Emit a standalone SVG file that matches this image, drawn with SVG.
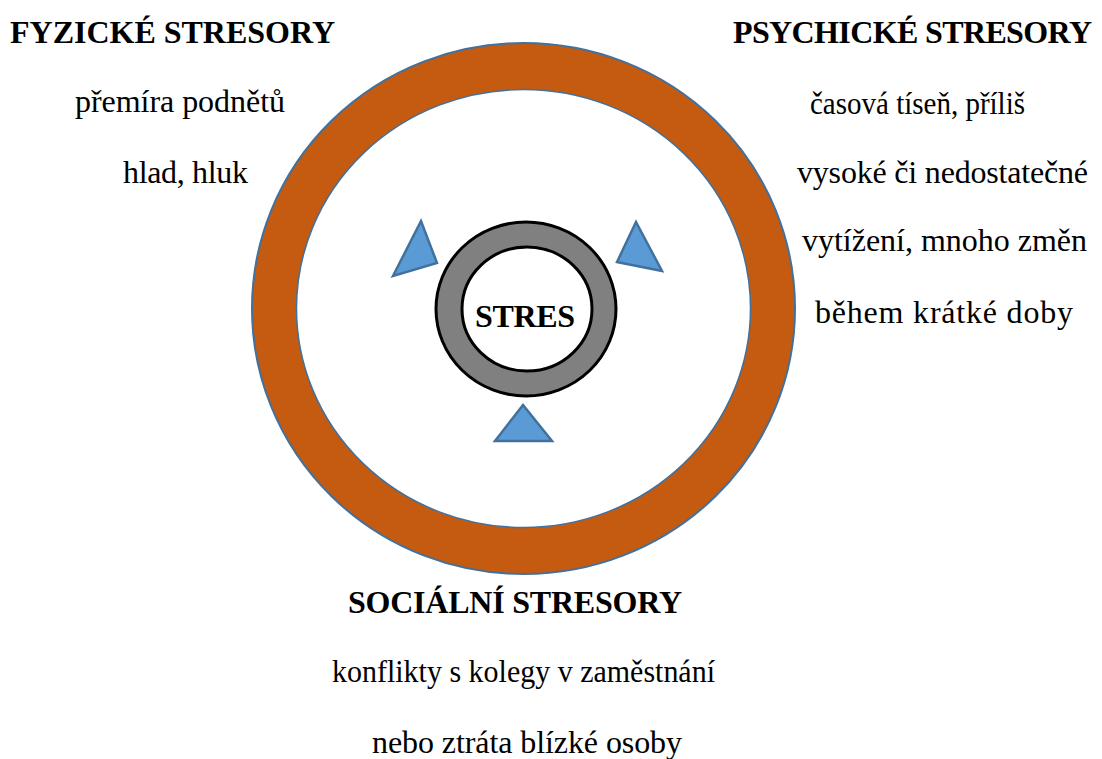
<svg xmlns="http://www.w3.org/2000/svg" width="1102" height="759" viewBox="0 0 1102 759">
<style>
.h{font-family:"Liberation Serif","Times New Roman",serif;font-weight:bold;font-size:32px;fill:#000}
.t{font-family:"Liberation Serif","Times New Roman",serif;font-size:32px;fill:#000}
.tri{fill:#5B9BD5;stroke:#41719C;stroke-width:2.5;stroke-linejoin:miter}
</style>
<rect width="1102" height="759" fill="#fff"/>
<g id="outer-ring">
<ellipse cx="523.5" cy="308.5" rx="271.5" ry="265.5" fill="#C55A11" stroke="#41719C" stroke-width="2"/>
<ellipse cx="523.5" cy="308.5" rx="227" ry="219" fill="#fff" stroke="#41719C" stroke-width="1.5"/>
</g>
<g id="stres">
<ellipse cx="526" cy="309" rx="90" ry="87" fill="#808080" stroke="#000" stroke-width="3"/>
<ellipse cx="527" cy="309" rx="65" ry="62" fill="#fff" stroke="#000" stroke-width="3"/>
<text class="h" x="475" y="327" textLength="100">STRES</text>
</g>
<g id="arrows">
<polygon class="tri" points="421,221 393,276 437,263"/>
<polygon class="tri" points="636,222 617,262 662,271"/>
<polygon class="tri" points="523,405 495,441 552,441"/>
</g>
<g id="fyzicke">
<text class="h" x="10" y="43" textLength="325">FYZICKÉ STRESORY</text>
<text class="t" x="75" y="112" textLength="210">přemíra podnětů</text>
<text class="t" x="123" y="183" textLength="125">hlad, hluk</text>
</g>
<g id="psychicke">
<text class="h" x="733" y="43" textLength="359">PSYCHICKÉ STRESORY</text>
<text class="t" x="810" y="114" textLength="215" lengthAdjust="spacingAndGlyphs">časová tíseň, příliš</text>
<text class="t" x="797" y="183" textLength="291">vysoké či nedostatečné</text>
<text class="t" x="802" y="251" textLength="285">vytížení, mnoho změn</text>
<text class="t" x="815" y="323" textLength="258">během krátké doby</text>
</g>
<g id="socialni">
<text class="h" x="348" y="613" textLength="334">SOCIÁLNÍ STRESORY</text>
<text class="t" x="332" y="682" textLength="383" lengthAdjust="spacingAndGlyphs">konflikty s kolegy v zaměstnání</text>
<text class="t" x="372" y="753" textLength="310">nebo ztráta blízké osoby</text>
</g>
</svg>
